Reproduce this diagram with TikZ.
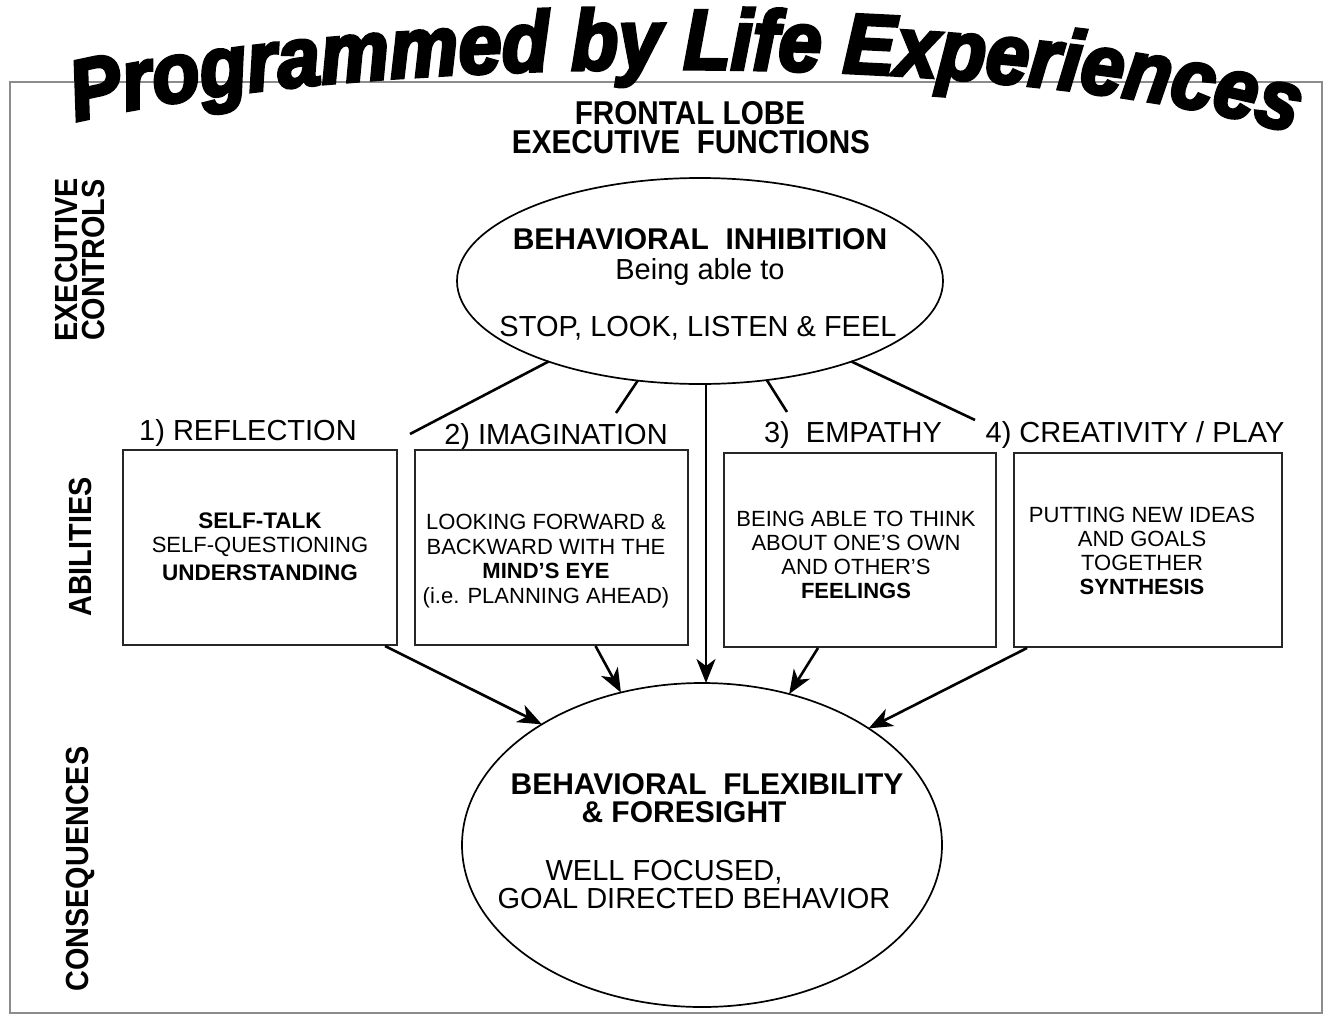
\documentclass[tikz,border=0pt]{standalone}
\usepackage{fontspec}
\setmainfont{Liberation Sans}
\newfontfamily\titlefont{Liberation Sans Bold Italic}[FakeBold=4,FakeStretch=0.91]
\newfontfamily\condfont{Liberation Sans Bold}[FakeStretch=0.9]
\usetikzlibrary{shapes.geometric,arrows.meta,decorations.text,calc}

\newcommand\setfs[2]{\fontsize{#1}{#2}\selectfont}
\newcommand\titlestyle{\titlefont\fontsize{85}{88}\selectfont}

\begin{document}
\begin{tikzpicture}[x=1pt,y=-1pt,
  every node/.style={inner sep=0pt,outer sep=0pt},
  frame/.style={draw=black!45,line width=2.6pt},
  oval/.style={ellipse,draw,line width=1.7pt},
  abox/.style={rectangle,draw=black!85,line width=1.7pt},
  link/.style={line width=2.6pt},
  arr/.style={line width=2.6pt,-{Stealth[length=24pt,width=19pt,inset=7pt]}},
  head/.style={anchor=base,font=\condfont\setfs{33}{36}},
  side/.style={rotate=90,align=center,font=\condfont\setfs{32}{27}},
  lbl/.style={anchor=base,font=\setfs{29}{32}},
  big/.style={anchor=base,font=\setfs{29}{32}},
  bigb/.style={anchor=base,font=\bfseries\setfs{30}{32}},
  % multi-line box texts: placed by the baseline of their last line
  boxtxt/.style={anchor=base,align=center,font=\setfs{22}{24}}]

\useasboundingbox (0,0) rectangle (1324,1017);
\fill[white] (0,0) rectangle (1324,1017);

% outer frame
\draw[frame] (10,82) rectangle (1322,1013);

% arched title
\path[decorate,decoration={text along path,text align=center,
  text={|\titlestyle|Programmed by Life Experiences}}]
  (50,128) .. controls (350,47) and (1060,47) .. (1318,142);

% heading
\node[head] (h1) at (690,124) {FRONTAL LOBE};
\node[head] (h2) at (691,153) {EXECUTIVE\ \ FUNCTIONS};

% row captions
\node[side] (s1) at (80,260) {EXECUTIVE\\CONTROLS};
\node[side] (s2) at (80,547) {ABILITIES};
\node[side] (s3) at (80,869) {CONSEQUENCES};

% executive control
\node[oval,minimum width=486pt,minimum height=206pt] (BI) at (700,281) {};
\node[bigb] (bi1) at (700,249) {BEHAVIORAL\ \ INHIBITION};
\node[big] (bi2) at (700,279) {Being able to};
\node[big] (bi3) at (698,336) {STOP, LOOK, LISTEN \& FEEL};

% ability captions
\node[lbl] (l1) at (248,440) {1) REFLECTION};
\node[lbl] (l2) at (556,444) {2) IMAGINATION};
\node[lbl] (l3) at (853,442) {3)\ \ EMPATHY};
\node[lbl] (l4) at (1135,442) {4) CREATIVITY / PLAY};

% ability boxes
\node[abox,minimum width=274pt,minimum height=195pt] (B1) at (260,547.5) {};
\node[abox,minimum width=273pt,minimum height=195pt] (B2) at (551.5,547.5) {};
\node[abox,minimum width=272pt,minimum height=194pt] (B3) at (860,550) {};
\node[abox,minimum width=268pt,minimum height=194pt] (B4) at (1148,550) {};

\node[boxtxt] (t1) at (260,580)
  {\setfs{22.5}{24}\bfseries SELF-TALK\\ SELF-QUESTIONING\\[4pt] \setfs{22.5}{24}\bfseries UNDERSTANDING};
\node[boxtxt,font=\setfs{22}{24.5}] (t2) at (546,603)
  {LOOKING FORWARD \&\\ BACKWARD WITH THE\\ \bfseries MIND'S EYE\\ (i.e. PLANNING AHEAD)};
\node[boxtxt] (t3) at (856,598)
  {BEING ABLE TO THINK\\ ABOUT ONE'S OWN\\ AND OTHER'S\\ \bfseries FEELINGS};
\node[boxtxt] (t4) at (1142,594)
  {PUTTING NEW IDEAS\\ AND GOALS\\ TOGETHER\\ \bfseries SYNTHESIS};

% consequence
\node[oval,minimum width=480pt,minimum height=324pt] (FF) at (702,845) {};
\node[bigb] (ff1) at (707,794) {BEHAVIORAL\ \ FLEXIBILITY};
\node[bigb] (ff2) at (684,822) {\& FORESIGHT};
\node[big] (ff3) at (664,880) {WELL FOCUSED,};
\node[big] (ff4) at (694,908) {GOAL DIRECTED BEHAVIOR};

% lines from the inhibition oval towards the abilities
\coordinate (e1) at (410,434);
\coordinate (e2) at (616,413);
\coordinate (e3) at (787,412);
\coordinate (e4) at (975,420);
\draw[link] (BI.208) -- (e1);
\draw[link] (BI.238) -- (e2);
\draw[link] (BI.304) -- (e3);
\draw[link] (BI.332) -- (e4);

% arrows into the consequence oval
\draw[arr] ($(BI.south)+(6,0)$) -- ($(FF.north)+(4,0)$);
\draw[arr] ($(B1.south east)+(-12,1)$) -- (FF.143);
\draw[arr] ($(B2.south)+(44,1)$) -- (FF.118);
\draw[arr] ($(B3.south)+(-42,1)$) -- (FF.60);
\draw[arr] ($(B4.south west)+(13,1)$) -- (FF.35.5);
\end{tikzpicture}
\end{document}
